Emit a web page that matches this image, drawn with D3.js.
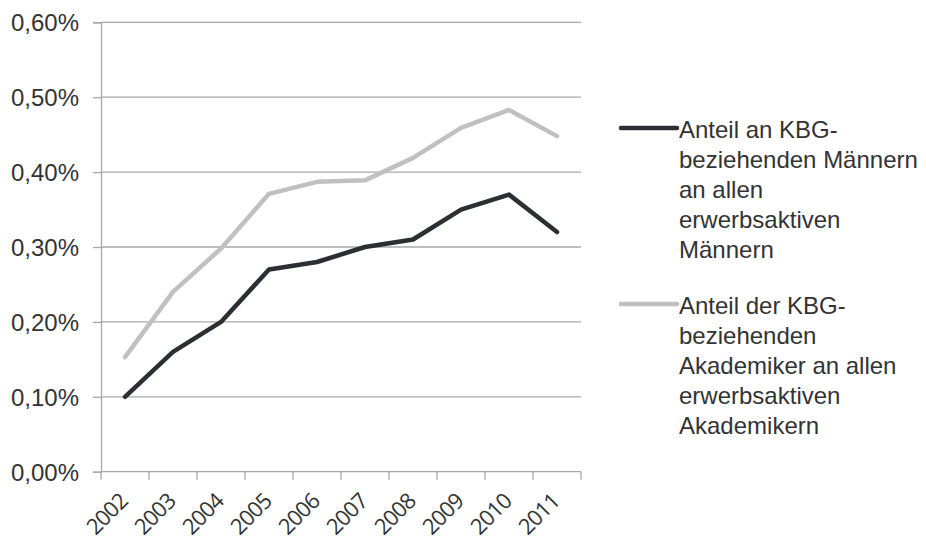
<!DOCTYPE html>
<html>
<head>
<meta charset="utf-8">
<script src="https://cdnjs.cloudflare.com/ajax/libs/d3/7.8.5/d3.min.js"></script>
<style>
	body { margin: 0; background: #fff; }
	svg { display: block; }
</style>
</head>
<body>
<script>
/* Data
***********************************************************************/
var years = ["2002", "2003", "2004", "2005", "2006", "2007", "2008", "2009", "2010", "2011"];
var maennerValues = [0.10, 0.16, 0.20, 0.27, 0.28, 0.30, 0.31, 0.35, 0.37, 0.32];
var akademikerValues = [0.153, 0.240, 0.298, 0.371, 0.387, 0.389, 0.419, 0.459, 0.483, 0.448];
var yTicks = [0, 0.1, 0.2, 0.3, 0.4, 0.5, 0.6];
var legendMaenner = ["Anteil an KBG-", "beziehenden Männern", "an allen", "erwerbsaktiven", "Männern"];
var legendAkademiker = ["Anteil der KBG-", "beziehenden", "Akademiker an allen", "erwerbsaktiven", "Akademikern"];

/* Setup
***********************************************************************/
var svgW = 926;
var svgH = 543;
var plotL = 101, plotR = 581, plotT = 22.3, plotB = 471.7;

var darkCol = "#2b2e33";
var lightCol = "#c0c0c0";
var gridCol = "#a8a8a8";
var textCol = "#333333";

var svg = d3.select("body").append("svg")
	.attr("width", svgW)
	.attr("height", svgH);

var xScale = d3.scaleBand()
	.domain(years)
	.range([plotL, plotR]);

var yScale = d3.scaleLinear()
	.domain([0, 0.6])
	.range([plotB, plotT]);

/* Grid and axes
***********************************************************************/
svg.append("g")
	.selectAll("line")
	.data(yTicks.slice(1))
	.enter().append("line")
	.attr("x1", plotL)
	.attr("x2", plotR)
	.attr("y1", function(d) { return yScale(d); })
	.attr("y2", function(d) { return yScale(d); })
	.attr("stroke", gridCol)
	.attr("stroke-width", 1.3);

var yAxis = d3.axisLeft(yScale)
	.tickValues(yTicks)
	.tickSize(8)
	.tickPadding(14)
	.tickFormat(function(d) { return d.toFixed(2).replace(".", ",") + "%"; });

var yG = svg.append("g")
	.attr("transform", "translate(" + plotL + ",0)")
	.call(yAxis);
yG.select(".domain").attr("stroke", gridCol).attr("stroke-width", 1.3);
yG.selectAll(".tick line").attr("stroke", gridCol).attr("stroke-width", 1.3);
yG.selectAll(".tick text")
	.attr("fill", textCol)
	.attr("font-family", "'Liberation Sans', Arial, sans-serif")
	.attr("font-size", "24px")
	.attr("dy", "0.36em");

// x axis: ticks on band edges
var xG = svg.append("g");
xG.append("line")
	.attr("x1", plotL).attr("x2", plotR)
	.attr("y1", plotB).attr("y2", plotB)
	.attr("stroke", gridCol).attr("stroke-width", 1.3);
xG.selectAll(".xtick")
	.data(years.concat(["end"]))
	.enter().append("line")
	.attr("class", "xtick")
	.attr("x1", function(d, i) { return plotL + i * xScale.bandwidth(); })
	.attr("x2", function(d, i) { return plotL + i * xScale.bandwidth(); })
	.attr("y1", plotB)
	.attr("y2", plotB + 8)
	.attr("stroke", gridCol)
	.attr("stroke-width", 1.3);
xG.selectAll(".xlabel")
	.data(years)
	.enter().append("text")
	.attr("class", "xlabel")
	.text(function(d) { return d; })
	.attr("transform", function(d) {
		var x = xScale(d) + xScale.bandwidth() / 2 + 4;
		var y = plotB + 31;
		return "translate(" + x + "," + y + ") rotate(-45)";
	})
	.attr("text-anchor", "end")
	.attr("fill", textCol)
	.attr("font-family", "'Open Sans', sans-serif")
	.attr("font-size", "22px")
	.attr("letter-spacing", "-0.8px");

/* Lines
***********************************************************************/
var line = d3.line()
	.x(function(d, i) { return xScale(years[i]) + xScale.bandwidth() / 2; })
	.y(function(d) { return yScale(d); });

svg.append("path")
	.attr("d", line(akademikerValues))
	.attr("fill", "none")
	.attr("stroke", lightCol)
	.attr("stroke-width", 4.5)
	.attr("stroke-linecap", "round")
	.attr("stroke-linejoin", "round");

svg.append("path")
	.attr("d", line(maennerValues))
	.attr("fill", "none")
	.attr("stroke", darkCol)
	.attr("stroke-width", 4.5)
	.attr("stroke-linecap", "round")
	.attr("stroke-linejoin", "round");

/* Legend
***********************************************************************/
function drawLegend(lines, color, lineY) {
	var g = svg.append("g");
	g.append("line")
		.attr("x1", 621).attr("x2", 677)
		.attr("y1", lineY).attr("y2", lineY)
		.attr("stroke", color)
		.attr("stroke-width", 4.5)
		.attr("stroke-linecap", "round");
	g.selectAll("text")
		.data(lines)
		.enter().append("text")
		.text(function(d) { return d; })
		.attr("x", 679)
		.attr("y", function(d, i) { return lineY + 10 + i * 30; })
		.attr("fill", textCol)
		.attr("font-family", "'Liberation Sans', Arial, sans-serif")
		.attr("font-size", "24px");
}

drawLegend(legendMaenner, darkCol, 128);
drawLegend(legendAkademiker, lightCol, 304);
</script>
</body>
</html>
